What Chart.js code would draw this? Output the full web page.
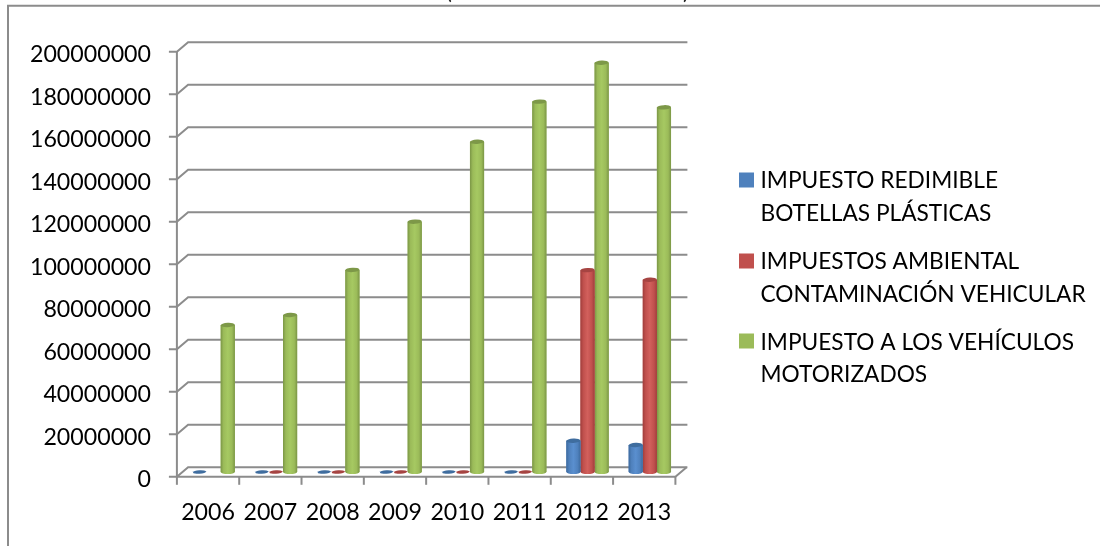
<!DOCTYPE html>
<html><head><meta charset="utf-8">
<style>html,body{margin:0;padding:0;background:#fff}#w{width:1100px;height:546px}</style>
<script src="https://cdn.jsdelivr.net/npm/chart.js@4"></script></head>
<body><div id="w"><canvas id="c" width="1100" height="546"></canvas></div>
<script>
const years=['2006','2007','2008','2009','2010','2011','2012','2013'];
const redimible=[100000,100000,100000,100000,100000,100000,14700000,12700000];
const ambiental=[null,100000,100000,100000,100000,100000,95000000,90500000];
const vehiculos=[69200000,73900000,95100000,117800000,155400000,174300000,192600000,171600000];
const legendBlue=['IMPUESTO REDIMIBLE','BOTELLAS PLÁSTICAS'];
const legendRed=['IMPUESTOS AMBIENTAL','CONTAMINACIÓN VEHICULAR'];
const legendGreen=['IMPUESTO A LOS VEHÍCULOS','MOTORIZADOS'];
const FONT='Lato';
const LINE='#8c8c8c';
const styles=[
 {base:'#4f81bd',edge:'#3d6a9e',mid:'#5a8fcf',cap:'#3f6d9f',lines:legendBlue,sq:180.5,base1:188,base2:220.5},
 {base:'#c0504d',edge:'#a03e3c',mid:'#d2605c',cap:'#a64442',lines:legendRed,sq:261.5,base1:269,base2:301.5},
 {base:'#9bbb59',edge:'#7b9646',mid:'#a6c962',cap:'#7d9848',lines:legendGreen,sq:341.5,base1:350,base2:381.5}
];
const DX=5.6,DY=4.8;
const deco={
 id:'deco',
 beforeDatasetsDraw(ch){
  const c=ch.ctx,x=ch.scales.x,y=ch.scales.y;
  const L=x.left-DX,R=x.right-DX;
  c.save();
  c.strokeStyle=LINE;c.lineWidth=2;
  c.beginPath();c.moveTo(8,546);c.lineTo(8,5.8);c.lineTo(1100,5.8);c.stroke();
  y.ticks.forEach(t=>{
    const p=y.getPixelForValue(t.value);
    c.beginPath();
    c.moveTo(L-8,p+DY);c.lineTo(L,p+DY);c.lineTo(x.left+DX,p-DY);c.lineTo(x.right+DX+0.8,p-DY);
    c.stroke();
  });
  const b=y.getPixelForValue(0);
  c.beginPath();c.moveTo(L,y.getPixelForValue(200000000)+DY);c.lineTo(L,b+DY);c.lineTo(R,b+DY);c.lineTo(x.right+DX,b-DY);c.stroke();
  for(let i=0;i<=years.length;i++){
    const px=L+(R-L)*i/years.length;
    c.beginPath();c.moveTo(px,b+DY);c.lineTo(px,b+DY+8);c.stroke();
  }
  c.fillStyle='#222';c.font='22px '+FONT;c.textAlign='center';c.textBaseline='alphabetic';
  c.fillText('(',449,-1.5);c.fillText(')',686,-1.5);
  c.restore();
 },
 afterDatasetDraw(ch,args){
  const c=ch.ctx,st=styles[args.index],meta=args.meta;
  meta.data.forEach((el,i)=>{
    const v=ch.data.datasets[args.index].data[i];
    if(v==null)return;
    const {x,y,base,width}=el.getProps(['x','y','base','width'],true);
    const l=x-width/2,r=x+width/2,rx=width/2;
    c.save();
    if(v<1000000){
      c.fillStyle=st.cap;c.beginPath();c.ellipse(x,base,rx-0.5,1.8,-0.06,0,Math.PI*2);c.fill();
      c.restore();return;
    }
    const g=c.createLinearGradient(l,0,r,0);
    g.addColorStop(0,st.edge);g.addColorStop(.2,st.base);g.addColorStop(.5,st.mid);g.addColorStop(.8,st.base);g.addColorStop(1,st.edge);
    c.fillStyle=g;
    c.beginPath();c.moveTo(l,y);c.lineTo(r,y);c.lineTo(r,base);c.ellipse(x,base,rx,2,0,0,Math.PI);c.closePath();c.fill();
    c.fillStyle=st.cap;c.beginPath();c.ellipse(x,y,rx,2.2,-0.05,0,Math.PI*2);c.fill();
    c.restore();
  });
 },
 afterDraw(ch){
  const c=ch.ctx;
  c.save();
  c.font='22.7px '+FONT;c.textAlign='left';c.textBaseline='alphabetic';
  styles.forEach(s=>{
    c.fillStyle=s.base;c.fillRect(739,s.sq-8,15,15);
    c.fillStyle='#000';
    c.fillText(s.lines[0],760.5,s.base1);c.fillText(s.lines[1],760.5,s.base2);
  });
  c.restore();
 }
};
new Chart(document.getElementById('c'),{
 type:'bar',
 data:{labels:years,datasets:[
  {label:legendBlue.join(' '),data:redimible,backgroundColor:'#4f81bd'},
  {label:legendRed.join(' '),data:ambiental,backgroundColor:'#c0504d'},
  {label:legendGreen.join(' '),data:vehiculos,backgroundColor:'#9bbb59'}
 ]},
 plugins:[deco],
 options:{
  responsive:false,animation:false,
  layout:{padding:{top:47,right:419,bottom:0,left:0}},
  datasets:{bar:{barPercentage:1,categoryPercentage:0.68,borderWidth:0}},
  plugins:{legend:{display:false},title:{display:false},tooltip:{enabled:false}},
  scales:{
   x:{grid:{display:false,drawTicks:false},border:{display:false},
      afterFit(s){s.height=74;},
      ticks:{font:{family:FONT,size:23.2},color:'#000',padding:27,labelOffset:-5.6,maxRotation:0,autoSkip:false}},
   y:{min:0,max:200000000,grid:{display:false,drawTicks:false},border:{display:false},
      afterFit(s){s.width=182.5;},
      ticks:{stepSize:20000000,font:{family:FONT,size:23.2},color:'#000',padding:31.5,labelOffset:8,autoSkip:false,
             callback:v=>String(v)}}
  }
 }
});
</script></body></html>
